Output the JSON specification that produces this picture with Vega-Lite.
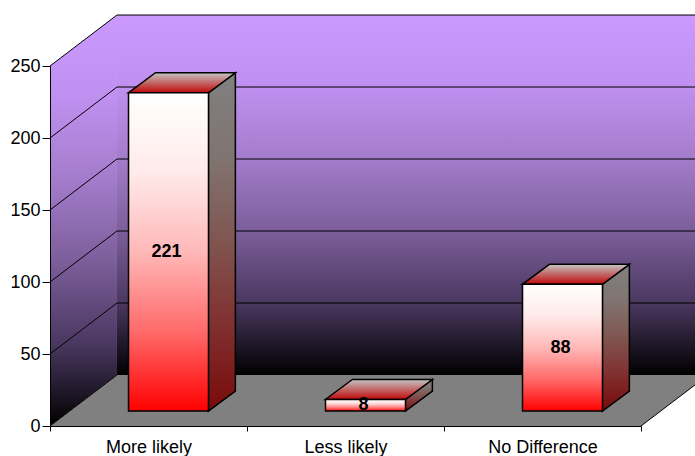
{
  "$schema": "https://vega.github.io/schema/vega-lite/v6.json",
  "width": 591,
  "height": 360,
  "autosize": "none",
  "padding": {"left": 50, "top": 66, "right": 54, "bottom": 30},
  "background": "white",
  "datasets": {
    "responses": [
      {"category": "More likely", "count": 221},
      {"category": "Less likely", "count": 8},
      {"category": "No Difference", "count": 88}
    ],
    "levels": [{"level": 0}, {"level": 50}, {"level": 100}, {"level": 150}, {"level": 200}, {"level": 250}],
    "depths": [{"depth": 0}, {"depth": 1}]
  },
  "config": {"view": {"stroke": null}, "font": "Liberation Sans"},
  "resolve": {"scale": {"x": "independent"}},
  "layer": [
    {
      "description": "Back wall",
      "data": {"name": "depths"},
      "transform": [{"filter": "datum.depth === 1"}],
      "mark": {
        "type": "rect",
        "fill": {"gradient": "linear", "x1": 0, "y1": 0, "x2": 0, "y2": 1,
          "stops": [{"offset": 0, "color": "#CC99FF"}, {"offset": 0.2, "color": "#BF90F0"}, {"offset": 0.4, "color": "#A47CCB"}, {"offset": 0.6, "color": "#7C5E9A"}, {"offset": 0.8, "color": "#4A3860"}, {"offset": 1, "color": "#000000"}]}
      },
      "encoding": {
        "x": {"datum": 0.34, "type": "quantitative", "scale": {"domain": [0, 3], "nice": false}, "axis": null},
        "x2": {"datum": 3.34},
        "y": {"datum": 35.4, "type": "quantitative", "scale": {"domain": [0, 250], "nice": false},
          "axis": {"title": null, "values": [0, 50, 100, 150, 200, 250], "domainColor": "#000000", "tickColor": "#000000",
            "tickSize": 8, "labelPadding": 2, "labelFontSize": 18, "labelColor": "#000000", "grid": false, "zindex": 2}},
        "y2": {"datum": 285.4}
      }
    },
    {
      "description": "Left wall",
      "data": {"name": "depths"},
      "transform": [
        {"calculate": "datum.depth * 0.34", "as": "wx"},
        {"calculate": "datum.depth * 35.4", "as": "wy"},
        {"calculate": "250 + datum.depth * 35.4", "as": "wy2"}
      ],
      "mark": {
        "type": "area",
        "fill": {"gradient": "linear", "x1": 0, "y1": 0, "x2": 0, "y2": 1,
          "stops": [{"offset": 0, "color": "#CC99FF"}, {"offset": 0.2, "color": "#BF90F0"}, {"offset": 0.4, "color": "#A47CCB"}, {"offset": 0.6, "color": "#7C5E9A"}, {"offset": 0.8, "color": "#4A3860"}, {"offset": 1, "color": "#000000"}]}
      },
      "encoding": {
        "x": {"field": "wx", "type": "quantitative", "scale": {"domain": [0, 3], "nice": false}, "axis": null},
        "y": {"field": "wy", "type": "quantitative"},
        "y2": {"field": "wy2"}
      }
    },
    {
      "description": "Floor",
      "data": {"name": "depths"},
      "transform": [
        {"calculate": "datum.depth * 0.34", "as": "fx"},
        {"calculate": "3 + datum.depth * 0.34", "as": "fx2"},
        {"calculate": "datum.depth * 35.4", "as": "fy"}
      ],
      "mark": {"type": "area", "orient": "horizontal", "fill": "#808080"},
      "encoding": {
        "x": {"field": "fx", "type": "quantitative", "scale": {"domain": [0, 3], "nice": false}, "axis": null},
        "x2": {"field": "fx2"},
        "y": {"field": "fy", "type": "quantitative"}
      }
    },
    {
      "description": "Gridlines along the back wall",
      "data": {"name": "levels"},
      "transform": [
        {"filter": "datum.level > 0"},
        {"calculate": "datum.level + 35.4", "as": "wallLevel"}
      ],
      "mark": {"type": "rule", "color": "#000000", "strokeWidth": 1},
      "encoding": {
        "x": {"datum": 0.34, "type": "quantitative", "scale": {"domain": [0, 3], "nice": false}, "axis": null},
        "x2": {"datum": 3.34},
        "y": {"field": "wallLevel", "type": "quantitative"}
      }
    },
    {
      "description": "Gridlines running up the left wall",
      "data": {"name": "levels"},
      "transform": [{"calculate": "datum.level + 35.4", "as": "wallLevel"}],
      "mark": {"type": "rule", "color": "#000000", "strokeWidth": 1},
      "encoding": {
        "x": {"datum": 0, "type": "quantitative", "scale": {"domain": [0, 3], "nice": false}, "axis": null},
        "x2": {"datum": 0.34},
        "y": {"field": "level", "type": "quantitative"},
        "y2": {"field": "wallLevel"}
      }
    },
    {
      "description": "Right edge of the floor",
      "data": {"name": "depths"},
      "transform": [{"filter": "datum.depth === 1"}],
      "mark": {"type": "rule", "color": "#000000", "strokeWidth": 1},
      "encoding": {
        "x": {"datum": 3, "type": "quantitative", "scale": {"domain": [0, 3], "nice": false}, "axis": null},
        "x2": {"datum": 3.34},
        "y": {"datum": 0, "type": "quantitative"},
        "y2": {"datum": 35.4}
      }
    },
    {
      "description": "Right-hand side of each column",
      "data": {"name": "responses"},
      "transform": [
        {"calculate": "[0, 1]", "as": "depth"},
        {"flatten": ["depth"]},
        {"calculate": "indexof(['More likely', 'Less likely', 'No Difference'], datum.category) + 0.804 + datum.depth * 0.137", "as": "sx"},
        {"calculate": "10.4 + datum.depth * 13.9", "as": "sy"},
        {"calculate": "datum.count + 10.4 + datum.depth * 13.9", "as": "sy2"}
      ],
      "mark": {
        "type": "area", "stroke": "#000000", "strokeWidth": 1.5,
        "fill": {"gradient": "linear", "x1": 0, "y1": 0, "x2": 0, "y2": 1,
          "stops": [{"offset": 0, "color": "#808080"}, {"offset": 0.25, "color": "#807470"}, {"offset": 0.5, "color": "#805550"}, {"offset": 0.75, "color": "#802F2F"}, {"offset": 1, "color": "#7A0A0A"}]}
      },
      "encoding": {
        "detail": {"field": "category"},
        "x": {"field": "sx", "type": "quantitative", "scale": {"domain": [0, 3], "nice": false}, "axis": null},
        "y": {"field": "sy", "type": "quantitative"},
        "y2": {"field": "sy2"}
      }
    },
    {
      "description": "Top of each column",
      "data": {"name": "responses"},
      "transform": [
        {"calculate": "[0, 1]", "as": "depth"},
        {"flatten": ["depth"]},
        {"calculate": "indexof(['More likely', 'Less likely', 'No Difference'], datum.category) + 0.398 + datum.depth * 0.137", "as": "tx"},
        {"calculate": "indexof(['More likely', 'Less likely', 'No Difference'], datum.category) + 0.804 + datum.depth * 0.137", "as": "tx2"},
        {"calculate": "datum.count + 10.4 + datum.depth * 13.9", "as": "ty"}
      ],
      "mark": {
        "type": "area", "orient": "horizontal", "stroke": "#000000", "strokeWidth": 1.5,
        "fill": {"gradient": "linear", "x1": 0, "y1": 0, "x2": 0, "y2": 1,
          "stops": [{"offset": 0, "color": "#C4C4C4"}, {"offset": 1, "color": "#C00808"}]}
      },
      "encoding": {
        "detail": {"field": "category"},
        "x": {"field": "tx", "type": "quantitative", "scale": {"domain": [0, 3], "nice": false}, "axis": null},
        "x2": {"field": "tx2"},
        "y": {"field": "ty", "type": "quantitative"}
      }
    },
    {
      "description": "Front of each column, with the category axis",
      "data": {"name": "responses"},
      "mark": {
        "type": "bar", "width": {"band": 0.406}, "xOffset": 20, "x2Offset": 20, "yOffset": -15, "y2Offset": -15,
        "stroke": "#000000", "strokeWidth": 1.5,
        "fill": {"gradient": "linear", "x1": 0, "y1": 0, "x2": 0, "y2": 1,
          "stops": [{"offset": 0, "color": "#FFFFFF"}, {"offset": 0.25, "color": "#FFEAEA"}, {"offset": 0.5, "color": "#FFB8B8"}, {"offset": 0.75, "color": "#FF6A6A"}, {"offset": 1, "color": "#FF0000"}]}
      },
      "encoding": {
        "x": {
          "field": "category", "type": "nominal",
          "sort": ["More likely", "Less likely", "No Difference"],
          "scale": {"paddingInner": 0, "paddingOuter": 0},
          "axis": {"title": null, "labelAngle": 0, "tickBand": "extent", "tickSize": 5, "tickColor": "#000000",
            "domainColor": "#000000", "labelFontSize": 18, "labelColor": "#000000", "labelPadding": 7, "zindex": 2}
        },
        "y": {"field": "count", "type": "quantitative", "stack": null},
        "y2": {"datum": 0}
      }
    },
    {
      "description": "Value printed on each column",
      "data": {"name": "responses"},
      "transform": [
        {"calculate": "indexof(['More likely', 'Less likely', 'No Difference'], datum.category) + 0.601", "as": "lx"},
        {"calculate": "datum.count / 2 + 10.4", "as": "ly"}
      ],
      "mark": {"type": "text", "font": "Liberation Sans", "fontWeight": "bold", "fontSize": 18, "color": "#000000", "baseline": "middle", "dx": -2},
      "encoding": {
        "x": {"field": "lx", "type": "quantitative", "scale": {"domain": [0, 3], "nice": false}, "axis": null},
        "y": {"field": "ly", "type": "quantitative"},
        "text": {"field": "count", "type": "quantitative"}
      }
    }
  ]
}
